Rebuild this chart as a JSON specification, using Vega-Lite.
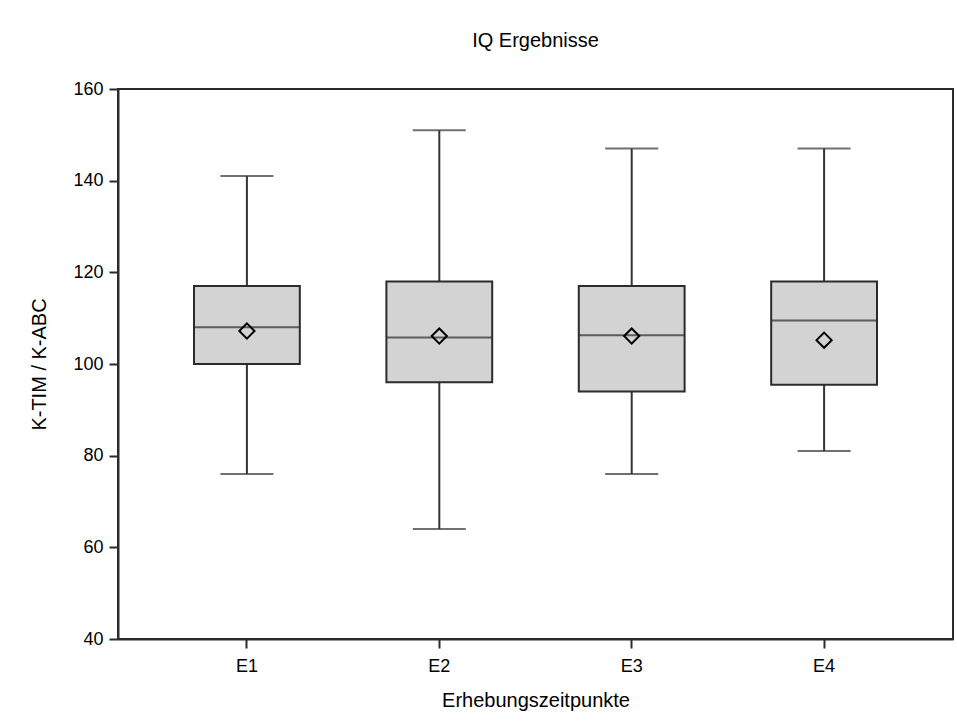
{
  "$schema": "https://vega.github.io/schema/vega-lite/v6.json",
  "width": 835,
  "height": 550,
  "autosize": "none",
  "padding": {"left": 118, "top": 89, "right": 4, "bottom": 83},
  "background": "white",
  "title": {
    "text": "IQ Ergebnisse",
    "font": "Liberation Sans",
    "fontSize": 20,
    "fontWeight": "normal",
    "color": "#000000",
    "anchor": "middle",
    "offset": 29
  },
  "config": {
    "view": {"stroke": "#2b2b2b", "strokeWidth": 2},
    "font": "Liberation Sans"
  },
  "data": {
    "values": [
      {"Zeitpunkt": "E1", "min": 76, "q1": 100, "median": 108, "q3": 117, "max": 141, "mean": 107.2},
      {"Zeitpunkt": "E2", "min": 64, "q1": 96, "median": 105.8, "q3": 118, "max": 151, "mean": 106.1},
      {"Zeitpunkt": "E3", "min": 76, "q1": 94, "median": 106.3, "q3": 117, "max": 147, "mean": 106.1},
      {"Zeitpunkt": "E4", "min": 81, "q1": 95.5, "median": 109.5, "q3": 118, "max": 147, "mean": 105.2}
    ]
  },
  "encoding": {
    "x": {
      "field": "Zeitpunkt",
      "type": "nominal",
      "title": "Erhebungszeitpunkte",
      "scale": {"paddingInner": 0, "paddingOuter": 0.17},
      "axis": {
        "labelAngle": 0,
        "labelFont": "Liberation Sans",
        "labelFontSize": 18,
        "labelColor": "#000000",
        "labelPadding": 9,
        "tickSize": 9,
        "tickColor": "#2b2b2b",
        "tickWidth": 2,
        "domainColor": "#2b2b2b",
        "domainWidth": 2,
        "titleFont": "Liberation Sans",
        "titleFontSize": 20,
        "titleFontWeight": "normal",
        "titleColor": "#000000",
        "titlePadding": 15
      }
    }
  },
  "layer": [
    {
      "mark": {"type": "rule", "color": "#333333", "strokeWidth": 2},
      "encoding": {
        "y": {
          "field": "min",
          "type": "quantitative",
          "title": "K-TIM / K-ABC",
          "scale": {"domain": [40, 160], "nice": false, "zero": false},
          "axis": {
            "values": [40, 60, 80, 100, 120, 140, 160],
            "grid": false,
            "labelFont": "Liberation Sans",
            "labelFontSize": 18,
            "labelColor": "#000000",
            "labelPadding": 6,
            "tickSize": 9,
            "tickColor": "#2b2b2b",
            "tickWidth": 2,
            "domainColor": "#2b2b2b",
            "domainWidth": 2,
            "titleFont": "Liberation Sans",
            "titleFontSize": 20,
            "titleFontWeight": "normal",
            "titleColor": "#000000",
            "titlePadding": 23
          }
        },
        "y2": {"field": "q1"}
      }
    },
    {
      "mark": {"type": "rule", "color": "#333333", "strokeWidth": 2},
      "encoding": {
        "y": {"field": "q3", "type": "quantitative"},
        "y2": {"field": "max"}
      }
    },
    {
      "mark": {"type": "tick", "color": "#333333", "size": 53, "thickness": 2},
      "encoding": {"y": {"field": "min", "type": "quantitative"}}
    },
    {
      "mark": {"type": "tick", "color": "#333333", "size": 53, "thickness": 2},
      "encoding": {"y": {"field": "max", "type": "quantitative"}}
    },
    {
      "mark": {"type": "bar", "fill": "#d3d3d3", "stroke": "#2b2b2b", "strokeWidth": 2, "width": {"band": 0.55}},
      "encoding": {
        "y": {"field": "q1", "type": "quantitative"},
        "y2": {"field": "q3"}
      }
    },
    {
      "mark": {"type": "tick", "color": "#2b2b2b", "size": 106, "thickness": 2},
      "encoding": {"y": {"field": "median", "type": "quantitative"}}
    },
    {
      "mark": {"type": "point", "shape": "diamond", "size": 230, "filled": false, "stroke": "#000000", "strokeWidth": 2, "opacity": 1},
      "encoding": {"y": {"field": "mean", "type": "quantitative"}}
    }
  ]
}
